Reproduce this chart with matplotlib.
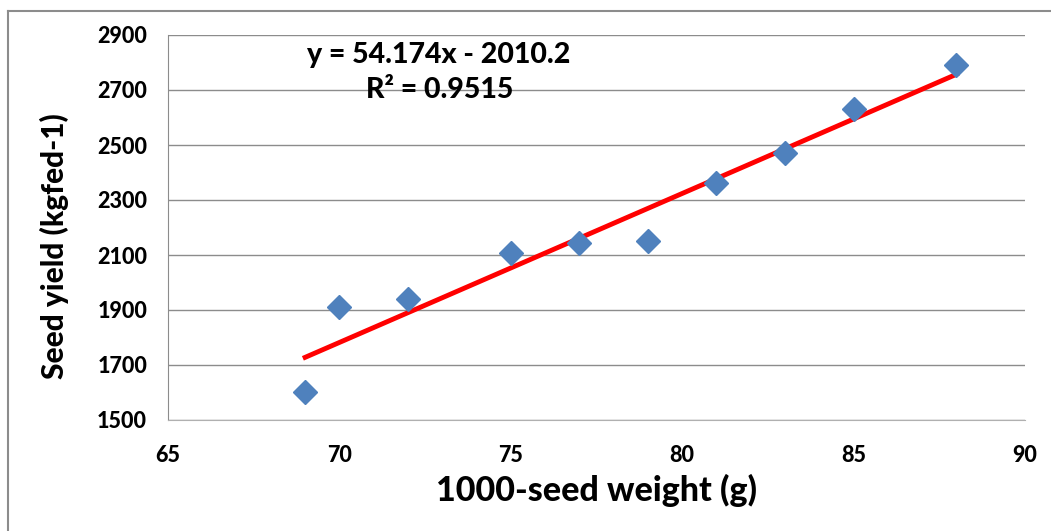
import matplotlib.pyplot as plt
from matplotlib.lines import Line2D
import numpy as np

# seed weight vs. seed yield
seed_weight = [69, 70, 72, 75, 77, 79, 81, 83, 85, 88]
seed_yield = [1600, 1910, 1940, 2108, 2145, 2150, 2362, 2471, 2632, 2790]

# linear trendline as reported on the chart
slope = 54.174
intercept = -2010.2
r_squared = 0.9515

x_ticks = [65, 70, 75, 80, 85, 90]
y_ticks = [1500, 1700, 1900, 2100, 2300, 2500, 2700, 2900]

plt.rcParams["font.family"] = ["Lato", "DejaVu Sans"]
WEIGHT = "black"

fig = plt.figure(figsize=(10.51, 5.31), dpi=100)
W, H = 1051, 531
# plot area in pixels: left 168, right 1025, top 35, bottom 420
ax = fig.add_axes([168 / W, 1 - 420 / H, (1025 - 168) / W, (420 - 35) / H])

# outer chart border (left and top visible)
fig.add_artist(Line2D([8 / W, 8 / W], [0, 1 - 11 / H], transform=fig.transFigure,
                      color="#8c8c8c", lw=1.5))
fig.add_artist(Line2D([8 / W, 1], [1 - 11 / H, 1 - 11 / H], transform=fig.transFigure,
                      color="#8c8c8c", lw=1.5))

ax.set_xlim(65, 90)
ax.set_ylim(1500, 2900)
ax.set_xticks(x_ticks)
ax.set_yticks(y_ticks)
ax.grid(axis="y", color="#8c8c8c", lw=1)
ax.set_axisbelow(True)

for side in ["top", "right"]:
    ax.spines[side].set_visible(False)
ax.spines["left"].set_color("#8c8c8c")
ax.spines["bottom"].set_color("#b0b0b0")

ax.tick_params(length=0, labelsize=15.5, pad=15, axis="y")
ax.tick_params(length=0, labelsize=15.5, pad=18, axis="x")
for lab in ax.get_xticklabels() + ax.get_yticklabels():
    lab.set_fontweight(WEIGHT)

# trendline
x_fit = np.array([min(seed_weight), max(seed_weight)])
ax.plot(x_fit, slope * x_fit + intercept, color="#ff0000", lw=3.5, zorder=2)

ax.plot(seed_weight, seed_yield, linestyle="none", marker="D", ms=12.5,
        color="#4f81bd", zorder=3)

fig.text(439 / W, 1 - 63 / H, "y = %.3fx - %.1f" % (slope, -intercept),
         ha="center", va="baseline", fontsize=20.5, fontweight=WEIGHT)
fig.text(440 / W, 1 - 98 / H, "R² = %.4f" % r_squared,
         ha="center", va="baseline", fontsize=20.5, fontweight=WEIGHT)

ax.set_xlabel("1000-seed weight (g)", fontsize=24.5, fontweight=WEIGHT)
ax.xaxis.set_label_coords((596 - 168) / (1025 - 168), -(490 - 420) / (420 - 35))
ax.xaxis.label.set_va("center")
fig.text(54 / W, 1 - 246 / H, "Seed yield (kgfed-1)", rotation=90,
         ha="center", va="center", fontsize=21.5, fontweight=WEIGHT)

fig.savefig("out.png", dpi=100)
